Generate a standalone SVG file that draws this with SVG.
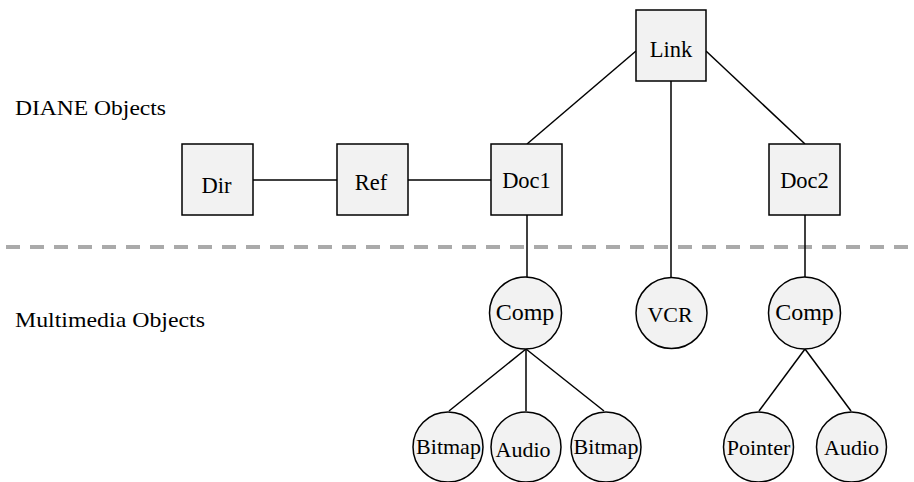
<svg xmlns="http://www.w3.org/2000/svg" width="914" height="482" viewBox="0 0 914 482">
<style>
.box{fill:#f2f2f2;stroke:#000;stroke-width:1.5}
.lbl{font-family:"Liberation Serif","Times New Roman",Times,serif;font-size:22.5px;fill:#000;text-anchor:middle}
.sm{font-size:22px}
.cp{font-size:24px}
.side{font-family:"Liberation Serif","Times New Roman",Times,serif;font-size:22px;fill:#000}
.edge{stroke:#000;stroke-width:1.5;fill:none}
.sep{stroke:#aaaaaa;stroke-width:4;stroke-dasharray:14 10;fill:none}
</style>
<rect width="914" height="482" fill="#fff"/>
<line class="sep" x1="6" y1="247" x2="912" y2="247"/>
<text class="side" x="15" y="115" textLength="151" lengthAdjust="spacingAndGlyphs">DIANE Objects</text>
<text class="side" x="15" y="327" textLength="190" lengthAdjust="spacingAndGlyphs">Multimedia Objects</text>
<g id="connectors">
<line class="edge" x1="253" y1="180" x2="337" y2="180"/>
<line class="edge" x1="408" y1="180" x2="491" y2="180"/>
<line class="edge" x1="636" y1="51" x2="527" y2="144"/>
<line class="edge" x1="706" y1="51" x2="805" y2="144"/>
<line class="edge" x1="671" y1="81" x2="671" y2="278"/>
<line class="edge" x1="527" y1="215" x2="527" y2="277"/>
<line class="edge" x1="805" y1="215" x2="805" y2="277"/>
<line class="edge" x1="526" y1="349" x2="449" y2="411"/>
<line class="edge" x1="526" y1="349" x2="526" y2="411"/>
<line class="edge" x1="526" y1="349" x2="604" y2="411"/>
<line class="edge" x1="805" y1="349" x2="759" y2="411"/>
<line class="edge" x1="805" y1="349" x2="851" y2="411"/>
</g>
<g id="Dir"><rect class="box" x="182" y="144" width="71" height="71"/><text class="lbl" x="216.5" y="193">Dir</text></g>
<g id="Ref"><rect class="box" x="337" y="144" width="71" height="71"/><text class="lbl" x="371" y="190">Ref</text></g>
<g id="Doc1"><rect class="box" x="491" y="144" width="71" height="71"/><text class="lbl" x="526.5" y="188">Doc1</text></g>
<g id="Link"><rect class="box" x="636" y="10" width="70" height="71"/><text class="lbl" x="671" y="57">Link</text></g>
<g id="Doc2"><rect class="box" x="769" y="144" width="71" height="71"/><text class="lbl" x="804.5" y="188">Doc2</text></g>
<g id="Comp1"><circle class="box" cx="525.5" cy="313" r="36"/><text class="lbl cp" x="525" y="320">Comp</text></g>
<g id="VCR"><circle class="box" cx="671.5" cy="313" r="35.5"/><text class="lbl sm" x="670" y="321.5">VCR</text></g>
<g id="Comp2"><circle class="box" cx="804.5" cy="313" r="36"/><text class="lbl cp" x="804.5" y="320">Comp</text></g>
<g id="Bitmap1"><circle class="box" cx="448" cy="447" r="35"/><text class="lbl sm" x="448.5" y="454">Bitmap</text></g>
<g id="Audio1"><circle class="box" cx="526" cy="447" r="35"/><text class="lbl sm" x="523" y="456.5">Audio</text></g>
<g id="Bitmap2"><circle class="box" cx="606" cy="447" r="35"/><text class="lbl sm" x="606" y="454">Bitmap</text></g>
<g id="Pointer"><circle class="box" cx="758.5" cy="447" r="35"/><text class="lbl sm" x="758.5" y="455">Pointer</text></g>
<g id="Audio2"><circle class="box" cx="851.5" cy="447" r="35"/><text class="lbl sm" x="851.5" y="455">Audio</text></g>
</svg>
